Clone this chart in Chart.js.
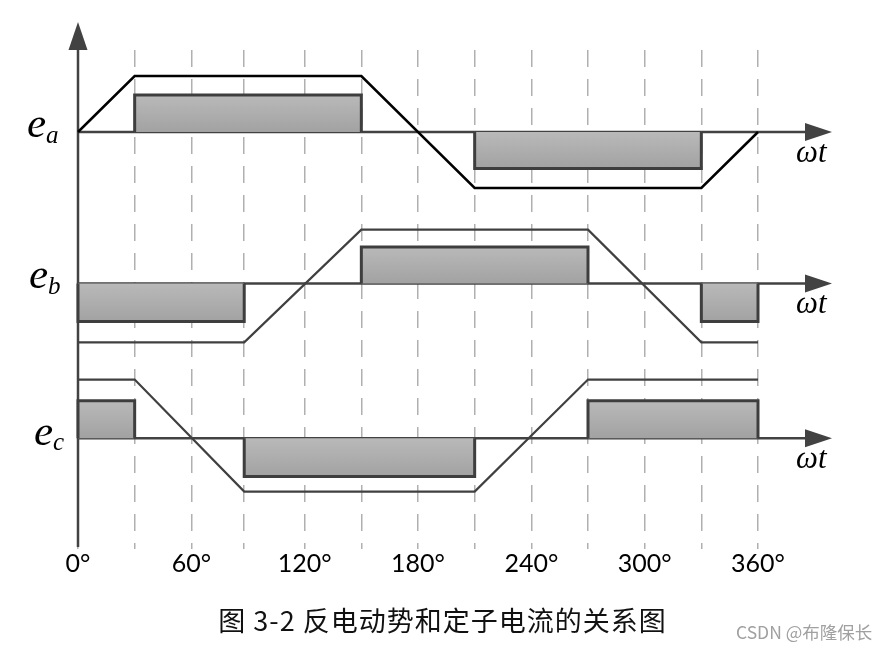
<!DOCTYPE html>
<html><head><meta charset="utf-8">
<script src="https://cdn.jsdelivr.net/npm/chart.js@4/dist/chart.umd.min.js"></script>
<style>
html,body{margin:0;padding:0;background:#fff;overflow:hidden}
#wrap{position:relative;width:888px;height:651px;background:#fff}
canvas{display:block}
#caption{position:absolute;left:0;width:885px;top:605px;text-align:center;font:27px "Noto Sans CJK SC",sans-serif;letter-spacing:1px;line-height:30px;color:#111}
#wm{position:absolute;left:736px;top:622px;font:17.5px "Noto Sans CJK SC",sans-serif;line-height:20px;color:#a0a0a0;white-space:nowrap}
</style></head><body>
<div id="wrap"><canvas id="c" width="888" height="651"></canvas>
<div id="caption">图 3-2 反电动势和定子电流的关系图</div>
<div id="wm">CSDN @布隆保长</div>
</div>
<script>
// ---------------- data (electrical angle in degrees, normalised amplitude) ----------------
const tickLabels = ['0°', '60°', '120°', '180°', '240°', '300°', '360°'];
const gridAngles = [0, 30, 60, 88, 120, 150, 180, 210, 240, 270, 300, 330, 360];
const phaseNames = ['a', 'b', 'c'];

const eaAngles = [0, 30, 150, 210, 330, 360];
const eaValues = [0, 1, 1, -1, -1, 0];
const ebAngles = [0, 88, 150, 270, 330, 360];
const ebValues = [-1.05, -1.05, 0.96, 0.96, -1.05, -1.05];
const ecAngles = [0, 30, 88, 210, 270, 360];
const ecValues = [1.05, 1.05, -0.95, -0.95, 1.05, 1.05];

const iaStart = [30, 210];
const iaEnd = [150, 330];
const iaLevel = [0.66, -0.65];
const ibStart = [0, 150, 330];
const ibEnd = [88, 270, 360];
const ibLevel = [-0.68, 0.65, -0.68];
const icStart = [0, 88, 270];
const icEnd = [30, 210, 360];
const icLevel = [0.67, -0.68, 0.67];

// ---------------- layout (not data) ----------------
const phaseOffset = [0, -2.705, -5.47];
const yMin = -7.446, yMax = 1.464;
const emfColor = ['#000000', '#404040', '#404040'];
const emfWidth = [2.5, 2.2, 2.2];
const axisColor = '#424242';

const emfSets = [[eaAngles, eaValues], [ebAngles, ebValues], [ecAngles, ecValues]];
const curSets = [[iaStart, iaEnd, iaLevel], [ibStart, ibEnd, ibLevel], [icStart, icEnd, icLevel]];

const datasets = [];
curSets.forEach(([st, en, lv], p) => {
  const off = phaseOffset[p];
  st.forEach((s, k) => {
    const e = en[k], l = lv[k];
    datasets.push({
      data: [{x: s, y: off}, {x: s, y: off + l}, {x: e, y: off + l}, {x: e, y: off}],
      fill: {value: off},
      backgroundColor: (ctx) => {
        const ch = ctx.chart;
        if (!ch.chartArea) return '#aaaaaa';
        const ys = ch.scales.y;
        const t = ys.getPixelForValue(off + Math.max(l, 0));
        const b = ys.getPixelForValue(off + Math.min(l, 0));
        const g = ch.ctx.createLinearGradient(0, t, 0, b);
        g.addColorStop(0, '#b9b9b9');
        g.addColorStop(1, '#a2a2a2');
        return g;
      },
      borderColor: '#3e3e3e',
      borderWidth: 3,
      borderJoinStyle: 'miter',
      pointRadius: 0,
      tension: 0,
      clip: false,
      order: 2
    });
  });
});
emfSets.forEach(([ang, val], p) => {
  const off = phaseOffset[p];
  datasets.push({
    data: ang.map((a, i) => ({x: a, y: val[i] + off})),
    fill: false,
    borderColor: emfColor[p],
    borderWidth: emfWidth[p],
    borderJoinStyle: 'miter',
    pointRadius: 0,
    tension: 0,
    clip: false,
    order: 1
  });
});

const axesPlugin = {
  id: 'axesPlugin',
  beforeDatasetsDraw(chart) {
    const {ctx, chartArea} = chart;
    const xs = chart.scales.x, ys = chart.scales.y;
    const x0 = xs.getPixelForValue(0);
    const xEnd = xs.getPixelForValue(360);
    ctx.save();
    ctx.strokeStyle = axisColor;
    ctx.fillStyle = axisColor;
    ctx.lineWidth = 2.5;
    ctx.beginPath();
    ctx.moveTo(x0, chartArea.bottom - 2);
    ctx.lineTo(x0, chartArea.top);
    ctx.stroke();
    ctx.beginPath();
    ctx.moveTo(x0, chartArea.top - 28);
    ctx.lineTo(x0 - 9.5, chartArea.top);
    ctx.lineTo(x0 + 9.5, chartArea.top);
    ctx.closePath();
    ctx.fill();
    phaseOffset.forEach((off) => {
      const yb = ys.getPixelForValue(off);
      const base = xEnd + 47, tip = xEnd + 74;
      ctx.beginPath();
      ctx.moveTo(x0, yb);
      ctx.lineTo(base, yb);
      ctx.stroke();
      ctx.beginPath();
      ctx.moveTo(tip, yb);
      ctx.lineTo(base, yb - 9);
      ctx.lineTo(base, yb + 9);
      ctx.closePath();
      ctx.fill();
    });
    ctx.restore();
  },
  afterDraw(chart) {
    const {ctx} = chart;
    const xs = chart.scales.x, ys = chart.scales.y;
    const xEnd = xs.getPixelForValue(360);
    const eX = [27, 29, 34];
    ctx.save();
    ctx.fillStyle = '#000';
    ctx.textBaseline = 'alphabetic';
    phaseOffset.forEach((off, p) => {
      const yb = ys.getPixelForValue(off);
      ctx.font = 'italic 43px "Liberation Serif"';
      ctx.textAlign = 'left';
      ctx.fillText('e', eX[p], yb + 5 + (p === 2 ? 2 : 0));
      const w = ctx.measureText('e').width;
      ctx.font = 'italic 25px "Liberation Serif"';
      ctx.fillText(phaseNames[p], eX[p] + w, yb + 11 + (p === 2 ? 1 : 0));
      ctx.font = 'italic 31px "Liberation Serif"';
      ctx.fillText('ωt', xEnd + 38, yb + 30);
    });
    ctx.restore();
  }
};

new Chart(document.getElementById('c'), {
  type: 'line',
  data: {datasets},
  options: {
    responsive: false,
    animation: false,
    events: [],
    layout: {padding: {left: 78, right: 130, top: 50, bottom: 72}},
    plugins: {legend: {display: false}, tooltip: {enabled: false}},
    scales: {
      x: {
        type: 'linear', min: 0, max: 360, position: 'bottom',
        afterBuildTicks: (scale) => { scale.ticks = gridAngles.map((v) => ({value: v})); },
        grid: {color: '#b0b0b0', lineWidth: 1.5, drawTicks: false},
        border: {display: false, dash: [17, 12]},
        ticks: {
          autoSkip: false, maxRotation: 0, padding: 0,
          color: '#000', font: {family: 'Lato', size: 25},
          callback: (v) => (v % 60 === 0 ? tickLabels[v / 60] : '')
        }
      },
      y: {type: 'linear', min: yMin, max: yMax, display: false}
    }
  },
  plugins: [axesPlugin]
});
</script>
</body></html>
